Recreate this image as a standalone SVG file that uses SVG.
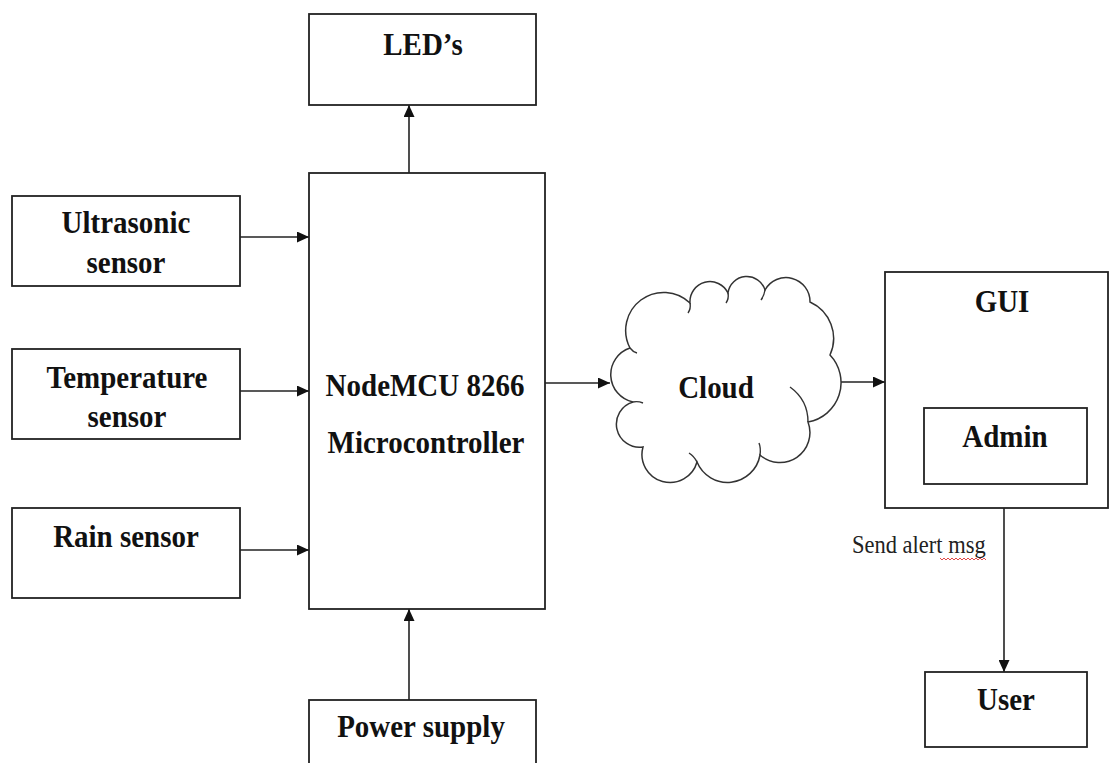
<svg xmlns="http://www.w3.org/2000/svg" width="1110" height="763" viewBox="0 0 1110 763">
<defs>
<style>
.box{fill:#fff;stroke:#222;stroke-width:1.8}
.lbl{font-family:"Liberation Serif","Times New Roman",serif;font-weight:bold;font-size:29px;fill:#111;text-anchor:middle}
.small{font-family:"Liberation Serif","Times New Roman",serif;font-size:22.5px;fill:#222}
.conn{fill:none;stroke:#222;stroke-width:1.6}
.cloud{fill:#fff;stroke:#333;stroke-width:1.5}
.tail{fill:none;stroke:#333;stroke-width:1.4}
</style>
<marker id="ah" markerUnits="userSpaceOnUse" markerWidth="12" markerHeight="11" refX="12" refY="5.5" orient="auto">
<path d="M0,0 L12,5.5 L0,11 z" fill="#111"/>
</marker>
</defs>
<rect width="1110" height="763" fill="#fff"/>

<g id="connectors">
<path class="conn" d="M240,237 H309" marker-end="url(#ah)"/>
<path class="conn" d="M240,391 H309" marker-end="url(#ah)"/>
<path class="conn" d="M240,550 H309" marker-end="url(#ah)"/>
<path class="conn" d="M409,173 V105" marker-end="url(#ah)"/>
<path class="conn" d="M409,700 V609" marker-end="url(#ah)"/>
<path class="conn" d="M545,383 H610" marker-end="url(#ah)"/>
<path class="conn" d="M838,382 H885" marker-end="url(#ah)"/>
<path class="conn" d="M1004,508 V672" marker-end="url(#ah)"/>
<text class="small" transform="translate(852,553) scale(1,1.12)">Send alert msg</text>
<path d="M940,558 l2,2 l2,-2 l2,2 l2,-2 l2,2 l2,-2 l2,2 l2,-2 l2,2 l2,-2 l2,2 l2,-2 l2,2 l2,-2 l2,2 l2,-2 l2,2 l2,-2 l2,2 l2,-2 l2,2 l2,-2 l2,2" fill="none" stroke="#d33" stroke-width="0.9"/>
</g>

<g id="leds">
<rect class="box" x="309" y="14" width="227" height="91"/>
<text class="lbl" transform="translate(423,55) scale(1,1.12)">LED’s</text>
</g>

<g id="ultrasonic">
<rect class="box" x="12" y="196" width="228" height="90"/>
<text class="lbl" transform="translate(126,233) scale(1,1.12)">Ultrasonic</text>
<text class="lbl" transform="translate(126,273) scale(1,1.12)">sensor</text>
</g>

<g id="temperature">
<rect class="box" x="12" y="349" width="228" height="90"/>
<text class="lbl" transform="translate(127,388) scale(1,1.12)">Temperature</text>
<text class="lbl" transform="translate(127,427) scale(1,1.12)">sensor</text>
</g>

<g id="rain">
<rect class="box" x="12" y="508" width="228" height="90"/>
<text class="lbl" transform="translate(126,547) scale(1,1.12)">Rain sensor</text>
</g>

<g id="mcu">
<rect class="box" x="309" y="173" width="236" height="436"/>
<text class="lbl" transform="translate(425,396) scale(1,1.12)">NodeMCU 8266</text>
<text class="lbl" transform="translate(426,453) scale(1,1.12)">Microcontroller</text>
</g>

<g id="power">
<rect class="box" x="309" y="700" width="227" height="80"/>
<text class="lbl" transform="translate(421,737) scale(1,1.12)">Power supply</text>
</g>

<g id="cloud">
<path class="cloud" d="M630,348 A38,38 0 0 1 690,303 A20,20 0 0 1 728,293 A19,19 0 0 1 765,290 A24,24 0 0 1 810,302 A40,40 0 0 1 830,355 A40,40 0 0 1 808,422 A30,30 0 0 1 760,455 A33,33 0 0 1 697,462 A28,28 0 0 1 643,447 A23.1,23.1 0 0 1 633,402 A28,28 0 0 1 630,348 Z"/>
<path class="tail" d="M630,348 Q633,352 637,353"/>
<path class="tail" d="M690,303 Q691,309 688,313"/>
<path class="tail" d="M728,293 Q729,299 726,303"/>
<path class="tail" d="M765,290 Q764,296 761,300"/>
<path class="tail" d="M790,387 Q808,400 808,422"/>
<path class="tail" d="M760,455 Q761,448 759,443"/>
<path class="tail" d="M697,462 Q694,456 689,453"/>
<path class="tail" d="M633,402 Q638,401 643,403"/>
<text class="lbl" transform="translate(716,398) scale(1,1.12)">Cloud</text>
</g>

<g id="gui">
<rect class="box" x="885" y="272" width="223" height="236"/>
<text class="lbl" transform="translate(1002,312) scale(1,1.12)">GUI</text>
</g>

<g id="admin">
<rect class="box" x="924" y="408" width="163" height="76"/>
<text class="lbl" transform="translate(1005,447) scale(1,1.12)">Admin</text>
</g>

<g id="user">
<rect class="box" x="925" y="672" width="162" height="75"/>
<text class="lbl" transform="translate(1006,710) scale(1,1.12)">User</text>
</g>
</svg>
